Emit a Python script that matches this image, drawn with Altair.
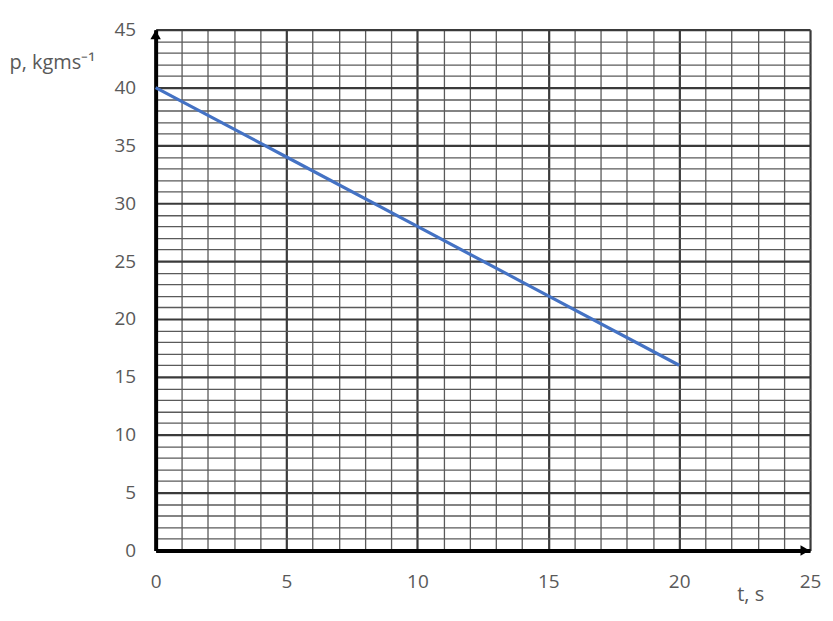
import altair as alt
import pandas as pd

# data
t_values = [0, 5, 10, 15, 20]
p_values = [40, 34, 28, 22, 16]

x_grid = list(range(0, 26))
y_grid = list(range(0, 46))

df = pd.DataFrame({"t": t_values, "p": p_values})

FONT = "Open Sans"
GREY = "#595959"

def make_axis(values, **kw):
    return alt.Axis(
        values=values,
        tickCount=200,
        format="d",
        grid=True,
        gridColor={"condition": {"test": "datum.value % 5 === 0", "value": "#3a3a3a"}, "value": "#5a5a5a"},
        gridWidth={"condition": {"test": "datum.value % 5 === 0", "value": 2.2}, "value": 1.3},
        labelExpr="datum.value % 5 === 0 ? datum.label : ''",
        labelOverlap=False,
        ticks=False,
        domain=True,
        domainColor="black",
        domainWidth=4,
        labelFont=FONT,
        labelFontSize=19,
        labelColor=GREY,
        labelFlush=False,
        titleFont=FONT,
        titleFontSize=20,
        titleFontWeight="normal",
        titleColor=GREY,
        **kw,
    )

x_axis = make_axis(
    x_grid,
    labelPadding=22,
    title="t, s",
    titleX=596,
    titleY=44,
    titleAlign="center",
    titleBaseline="middle",
)

y_axis = make_axis(
    y_grid,
    labelPadding=20,
    title="p, kgms⁻¹",
    titleAngle=0,
    titleX=-147,
    titleY=33,
    titleAlign="left",
    titleBaseline="middle",
)

base = alt.Chart(df)

line = base.mark_line(color="#4472C4", strokeWidth=3.2).encode(
    x=alt.X("t:Q", scale=alt.Scale(domain=[0, 25], nice=False, zero=True), axis=x_axis),
    y=alt.Y("p:Q", scale=alt.Scale(domain=[0, 45], nice=False, zero=True), axis=y_axis),
)

arrow_up = alt.Chart(pd.DataFrame({"t": [0], "p": [45]})).mark_point(
    shape="triangle-up", filled=True, color="black", size=110, opacity=1, yOffset=5
).encode(x="t:Q", y="p:Q")

arrow_right = alt.Chart(pd.DataFrame({"t": [25], "p": [0]})).mark_point(
    shape="triangle-right", filled=True, color="black", size=110, opacity=1, xOffset=-5
).encode(x="t:Q", y="p:Q")

chart = (
    alt.layer(line, arrow_up, arrow_right)
    .properties(
        width=656,
        height=522,
        autosize=alt.AutoSizeParams(type="none"),
        padding={"left": 148, "top": 21, "right": 15, "bottom": 58},
        background="white",
    )
    .configure_view(stroke=None)
)

chart.save("out.html", embed_options={"renderer": "svg", "actions": False})
